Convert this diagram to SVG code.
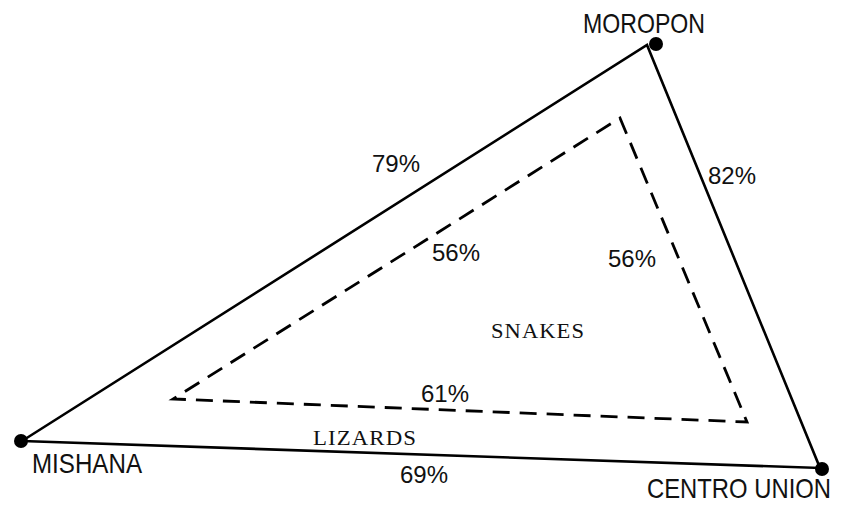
<svg xmlns="http://www.w3.org/2000/svg" width="842" height="508" viewBox="0 0 842 508">
<style>
.solid{fill:none;stroke:#000;stroke-width:2.6;stroke-linejoin:miter}
.dash{fill:none;stroke:#000;stroke-width:2.8;stroke-dasharray:17,10}
.dot{fill:#000}
.name{font-family:"Liberation Sans",Arial,sans-serif;font-size:28px;fill:#111}
.pct{font-family:"Liberation Sans",Arial,sans-serif;font-size:24px;fill:#111}
.lab{font-family:"Liberation Serif","Times New Roman",serif;font-size:21px;fill:#111;letter-spacing:1px}
</style>
<rect width="842" height="508" fill="#fff"/>
<g id="connectors">
<polyline class="solid" points="22,441 647,45 820,468 22,441"/>
<path class="dash" d="M620,118 L747,422 L173,399 Z"/>
</g>
<g id="moropon"><circle class="dot" cx="656" cy="44" r="7"/><text class="name" x="583" y="33" textLength="122" lengthAdjust="spacingAndGlyphs">MOROPON</text></g>
<g id="mishana"><circle class="dot" cx="21" cy="441" r="7"/><text class="name" x="32" y="473" textLength="110" lengthAdjust="spacingAndGlyphs">MISHANA</text></g>
<g id="centro-union"><circle class="dot" cx="822" cy="469" r="7"/><text class="name" x="647" y="498" font-size="27" textLength="184" lengthAdjust="spacingAndGlyphs">CENTRO UNION</text></g>
<g id="labels">
<text class="pct" x="372" y="172">79%</text>
<text class="pct" x="708" y="184">82%</text>
<text class="pct" x="432" y="261">56%</text>
<text class="pct" x="608" y="267">56%</text>
<text class="lab" x="491" y="338" textLength="94" lengthAdjust="spacingAndGlyphs">SNAKES</text>
<text class="pct" x="421" y="402">61%</text>
<text class="lab" x="313" y="445" textLength="104" lengthAdjust="spacingAndGlyphs">LIZARDS</text>
<text class="pct" x="400" y="483">69%</text>
</g>
</svg>
